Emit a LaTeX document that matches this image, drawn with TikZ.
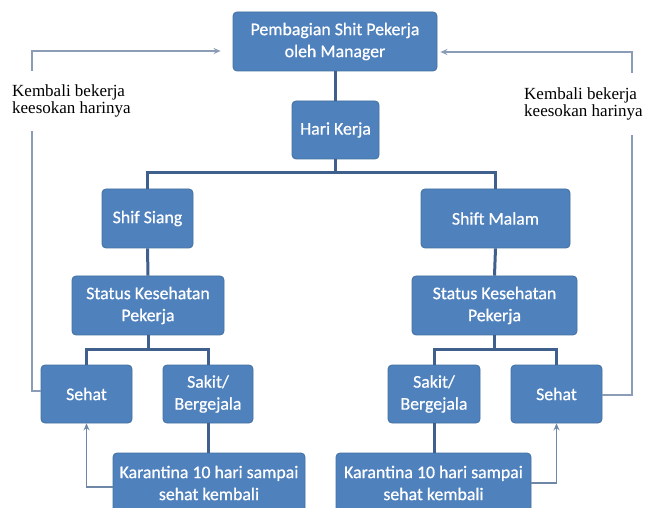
\documentclass[tikz,border=0pt]{standalone}
\usepackage{fontspec}
\setmainfont{Liberation Serif}
\newfontfamily\boxfont[FakeBold=0.7]{Carlito}
\usetikzlibrary{arrows.meta}
\definecolor{boxfill}{HTML}{4F81BD}
\definecolor{boxedge}{HTML}{41709F}
\definecolor{conn}{HTML}{3F5F8C}
\definecolor{loopc}{HTML}{8A9CB6}
\definecolor{backc}{HTML}{6F87A6}
\tikzset{
  blk/.style={draw=boxedge, line width=0.8pt, fill=boxfill, rounded corners=4pt,
    text=white, font=\boxfont\fontsize{17.8}{22}\selectfont, align=center,
    inner sep=0pt, minimum height=59pt},
  tree/.style={draw=conn, line width=3pt},
  loopline/.style={draw=loopc, line width=2pt},
  backline/.style={draw=backc, line width=1.8pt},
  tip/.style={-{Stealth[length=7pt,width=6pt]}},
  lbl/.style={fill=white, inner sep=0pt, minimum height=60pt, align=left,
    font=\fontsize{17}{17.5}\selectfont}
}
\begin{document}
\begin{tikzpicture}[x=1pt,y=-1pt]
\useasboundingbox (0,0) rectangle (649,508);
\clip (0,0) rectangle (649,508);
\fill[white] (0,0) rectangle (649,508);
% boxes
\node[blk, minimum width=204pt] (top) at (335,41.5) {Pembagian Shit Pekerja\\oleh Manager};
\node[blk, minimum width=87pt, minimum height=58pt] (hari) at (335.5,130) {Hari Kerja};
\node[blk, minimum width=91pt] (siang) at (147.5,218.5) {Shif Siang};
\node[blk, minimum width=149pt] (malam) at (495.5,218.5) {Shift Malam};
\node[blk, minimum width=152pt] (statL) at (148,305.5) {Status Kesehatan\\Pekerja};
\node[blk, minimum width=165pt] (statR) at (494.5,305.5) {Status Kesehatan\\Pekerja};
\node[blk, minimum width=91pt, minimum height=58pt] (sehatL) at (86.5,394) {Sehat};
\node[blk, minimum width=90pt, minimum height=58pt] (sakitL) at (208,394) {Sakit/\\Bergejala};
\node[blk, minimum width=92pt, minimum height=58pt] (sakitR) at (434,394) {Sakit/\\Bergejala};
\node[blk, minimum width=91pt, minimum height=58pt] (sehatR) at (556.5,394) {Sehat};
\node[blk, minimum width=192pt, minimum height=60pt] (karL) at (209,483) {Karantina 10 hari sampai\\sehat kembali};
\node[blk, minimum width=195pt, minimum height=60pt] (karR) at (433.5,483) {Karantina 10 hari sampai\\sehat kembali};
% tree connectors
\coordinate (bus) at (335,173);
\draw[tree] (top.south -| bus) -- (hari.north -| bus);
\draw[tree] (hari.south -| bus) -- (bus);
\draw[tree] (siang.north) -- (siang.north |- bus) -- (malam.north |- bus) -- (malam.north);
\draw[tree] (siang.south) -- (statL.north);
\draw[tree] (malam.south) -- (statR.north);
\coordinate (busL) at (148,350);
\coordinate (busR) at (494.5,350);
\draw[tree] (statL.south) -- (busL);
\draw[tree] (sehatL.north) -- (sehatL.north |- busL) -- (sakitL.north |- busL) -- (sakitL.north);
\draw[tree] (statR.south) -- (busR);
\draw[tree] (sakitR.north) -- (sakitR.north |- busR) -- (sehatR.north |- busR) -- (sehatR.north);
\draw[tree] (sakitL.south) -- (karL.north -| sakitL);
\draw[tree] (sakitR.south) -- (karR.north -| sakitR);
% back arrows from quarantine
\draw[backline, tip] (karL.west |- 0,487) -- (86.5,487) -- (sehatL.south);
\draw[backline, tip] (karR.east |- 0,483) -- (556.5,483) -- (sehatR.south);
% loops back to top
\coordinate (lc) at (32,391);
\coordinate (rc) at (632,395);
\draw[loopline, tip, shorten >=12pt] (sehatL.west |- lc) -- (lc) -- (32,51) -- (top.west |- 0,51);
\draw[loopline, tip, shorten >=3pt] (sehatR.east |- rc) -- (rc) -- (632,52) -- (top.east |- 0,52);
\node[lbl, anchor=west] (labL) at (12,101) {Kembali bekerja\\keesokan harinya};
\node[lbl, anchor=west, minimum height=62pt] (labR) at (524,104) {Kembali bekerja\\keesokan harinya};
\end{tikzpicture}
\end{document}
